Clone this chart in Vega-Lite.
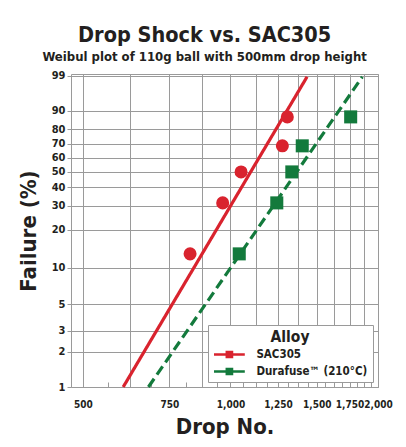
{
  "$schema": "https://vega.github.io/schema/vega-lite/v6.json",
  "width": 307,
  "height": 313,
  "autosize": "none",
  "padding": {"left": 71, "top": 74, "right": 28, "bottom": 60},
  "background": "white",
  "config": {
    "font": "DejaVu Sans Condensed, Liberation Sans, sans-serif",
    "view": {"stroke": "#9a9a9a", "strokeWidth": 1}
  },
  "title": {
    "text": "Drop Shock vs. SAC305",
    "subtitle": "Weibul plot of 110g ball with 500mm drop height",
    "anchor": "middle",
    "frame": "bounds",
    "fontSize": 21.5,
    "fontWeight": "bold",
    "color": "#231f20",
    "subtitleFontSize": 13,
    "subtitleFontWeight": "bold",
    "subtitleColor": "#231f20",
    "subtitlePadding": 4,
    "offset": 6
  },
  "data": {
    "values": [
      {"alloy": "SAC305", "kind": "observed", "drops": 827, "failure": 12.9},
      {"alloy": "SAC305", "kind": "observed", "drops": 964, "failure": 31.4},
      {"alloy": "SAC305", "kind": "observed", "drops": 1051, "failure": 50},
      {"alloy": "SAC305", "kind": "observed", "drops": 1276, "failure": 68.6},
      {"alloy": "SAC305", "kind": "observed", "drops": 1306, "failure": 87.1},
      {"alloy": "Durafuse™ (210°C)", "kind": "observed", "drops": 1042, "failure": 12.9},
      {"alloy": "Durafuse™ (210°C)", "kind": "observed", "drops": 1243, "failure": 31.4},
      {"alloy": "Durafuse™ (210°C)", "kind": "observed", "drops": 1334, "failure": 50},
      {"alloy": "Durafuse™ (210°C)", "kind": "observed", "drops": 1401, "failure": 68.6},
      {"alloy": "Durafuse™ (210°C)", "kind": "observed", "drops": 1759, "failure": 87.1},
      {"alloy": "SAC305", "kind": "fit", "drops": 604, "failure": 1},
      {"alloy": "SAC305", "kind": "fit", "drops": 1433, "failure": 98.9},
      {"alloy": "Durafuse™ (210°C)", "kind": "fit", "drops": 680, "failure": 1},
      {"alloy": "Durafuse™ (210°C)", "kind": "fit", "drops": 1858, "failure": 98.9}
    ]
  },
  "transform": [
    {"calculate": "log(-log(1 - datum.failure / 100))", "as": "wy"}
  ],
  "encoding": {
    "x": {
      "field": "drops",
      "type": "quantitative",
      "title": "Drop No.",
      "scale": {"type": "log", "domain": [472.6, 2000], "nice": false},
      "axis": {
        "values": [500, 562.5, 625, 687.5, 750, 812.5, 875, 937.5, 1000, 1062.5, 1125, 1187.5, 1250, 1312.5, 1375, 1437.5, 1500, 1562.5, 1625, 1687.5, 1750, 1812.5, 1875, 1937.5, 2000],
        "labelExpr": "datum.value % 250 === 0 ? format(datum.value, ',') : ''",
        "grid": true,
        "gridColor": "#9a9a9a",
        "gridOpacity": {"condition": {"test": "datum.value % 125 === 0", "value": 1}, "value": 0},
        "tickSize": -5,
        "tickColor": "#9a9a9a",
        "domain": false,
        "labelFontSize": 10,
        "labelFontWeight": "bold",
        "labelColor": "#231f20",
        "labelPadding": 17,
        "labelOverlap": false,
        "labelFlush": false,
        "labelBound": false,
        "titleFontSize": 22,
        "titleFontWeight": "bold",
        "titleColor": "#231f20",
        "titleBaseline": "alphabetic",
        "titleY": 46
      }
    },
    "y": {
      "field": "wy",
      "type": "quantitative",
      "title": "Failure (%)",
      "scale": {"domain": [-4.600149, 1.561], "nice": false, "zero": false},
      "axis": {
        "values": [-4.600149, -3.901939, -3.491322, -2.970195, -2.250367, -1.49994, -1.03093, -0.671727, -0.366513, -0.087422, 0.185627, 0.475885, 0.834032, 1.52718],
        "labelExpr": "format((1 - exp(-exp(datum.value))) * 100, '.0f')",
        "grid": true,
        "gridColor": "#9a9a9a",
        "tickSize": 4,
        "tickColor": "#9a9a9a",
        "domain": false,
        "labelFontSize": 11,
        "labelFontWeight": "bold",
        "labelColor": "#231f20",
        "labelPadding": 2,
        "labelOverlap": false,
        "labelFlush": false,
        "labelBound": false,
        "titleFontSize": 22,
        "titleFontWeight": "bold",
        "titleColor": "#231f20",
        "titleBaseline": "alphabetic",
        "titleAngle": 270,
        "titleX": -36
      }
    },
    "color": {
      "field": "alloy",
      "type": "nominal",
      "scale": {"domain": ["SAC305", "Durafuse™ (210°C)"], "range": ["#d9232e", "#137a3c"]},
      "legend": {
        "title": "Alloy",
        "orient": "bottom-right",
        "offset": 5,
        "padding": 5,
        "strokeColor": "#9a9a9a",
        "fillColor": "white",
        "titleFontSize": 15.5,
        "titleFontWeight": "bold",
        "titleColor": "#231f20",
        "titleAnchor": "middle",
        "titlePadding": 2,
        "labelFontSize": 11.5,
        "labelFontWeight": "bold",
        "labelColor": "#231f20",
        "labelOffset": 20,
        "symbolSize": 196,
        "symbolOffset": 9.4,
        "symbolStrokeWidth": 0,
        "symbolOpacity": 1,
        "rowPadding": 4,
        "encode": {
          "symbols": {
            "update": {
              "shape": {"condition": {"test": "datum.index === 0 || datum.value === 'SAC305'", "value": "M-2.2,-0.18L2.2,-0.18L2.2,0.18L-2.2,0.18ZM0.57,0L0.527,0.218L0.403,0.403L0.218,0.527L0,0.57L-0.218,0.527L-0.403,0.403L-0.527,0.218L-0.57,0L-0.527,-0.218L-0.403,-0.403L-0.218,-0.527L0,-0.57L0.218,-0.527L0.403,-0.403L0.527,-0.218Z"}, "value": "M-2.2,-0.18L2.2,-0.18L2.2,0.18L-2.2,0.18ZM-0.55,-0.55L0.55,-0.55L0.55,0.55L-0.55,0.55Z"},
              "fill": {"condition": {"test": "datum.index === 0 || datum.value === 'SAC305'", "value": "#d9232e"}, "value": "#137a3c"},
              "strokeWidth": {"value": 0}
            }
          }
        }
      }
    }
  },
  "layer": [
    {
      "transform": [{"filter": "datum.kind === 'fit'"}],
      "mark": {"type": "line", "strokeWidth": 3.2},
      "encoding": {
        "strokeDash": {
          "field": "alloy",
          "type": "nominal",
          "scale": {"domain": ["SAC305", "Durafuse™ (210°C)"], "range": [[1, 0], [10, 5]]},
          "legend": null
        }
      }
    },
    {
      "transform": [{"filter": "datum.kind === 'observed'"}],
      "mark": {"type": "point", "filled": true, "opacity": 1, "size": 170},
      "encoding": {
        "shape": {"condition": {"test": "datum.alloy === 'SAC305'", "value": "circle"}, "value": "square"}
      }
    }
  ]
}
